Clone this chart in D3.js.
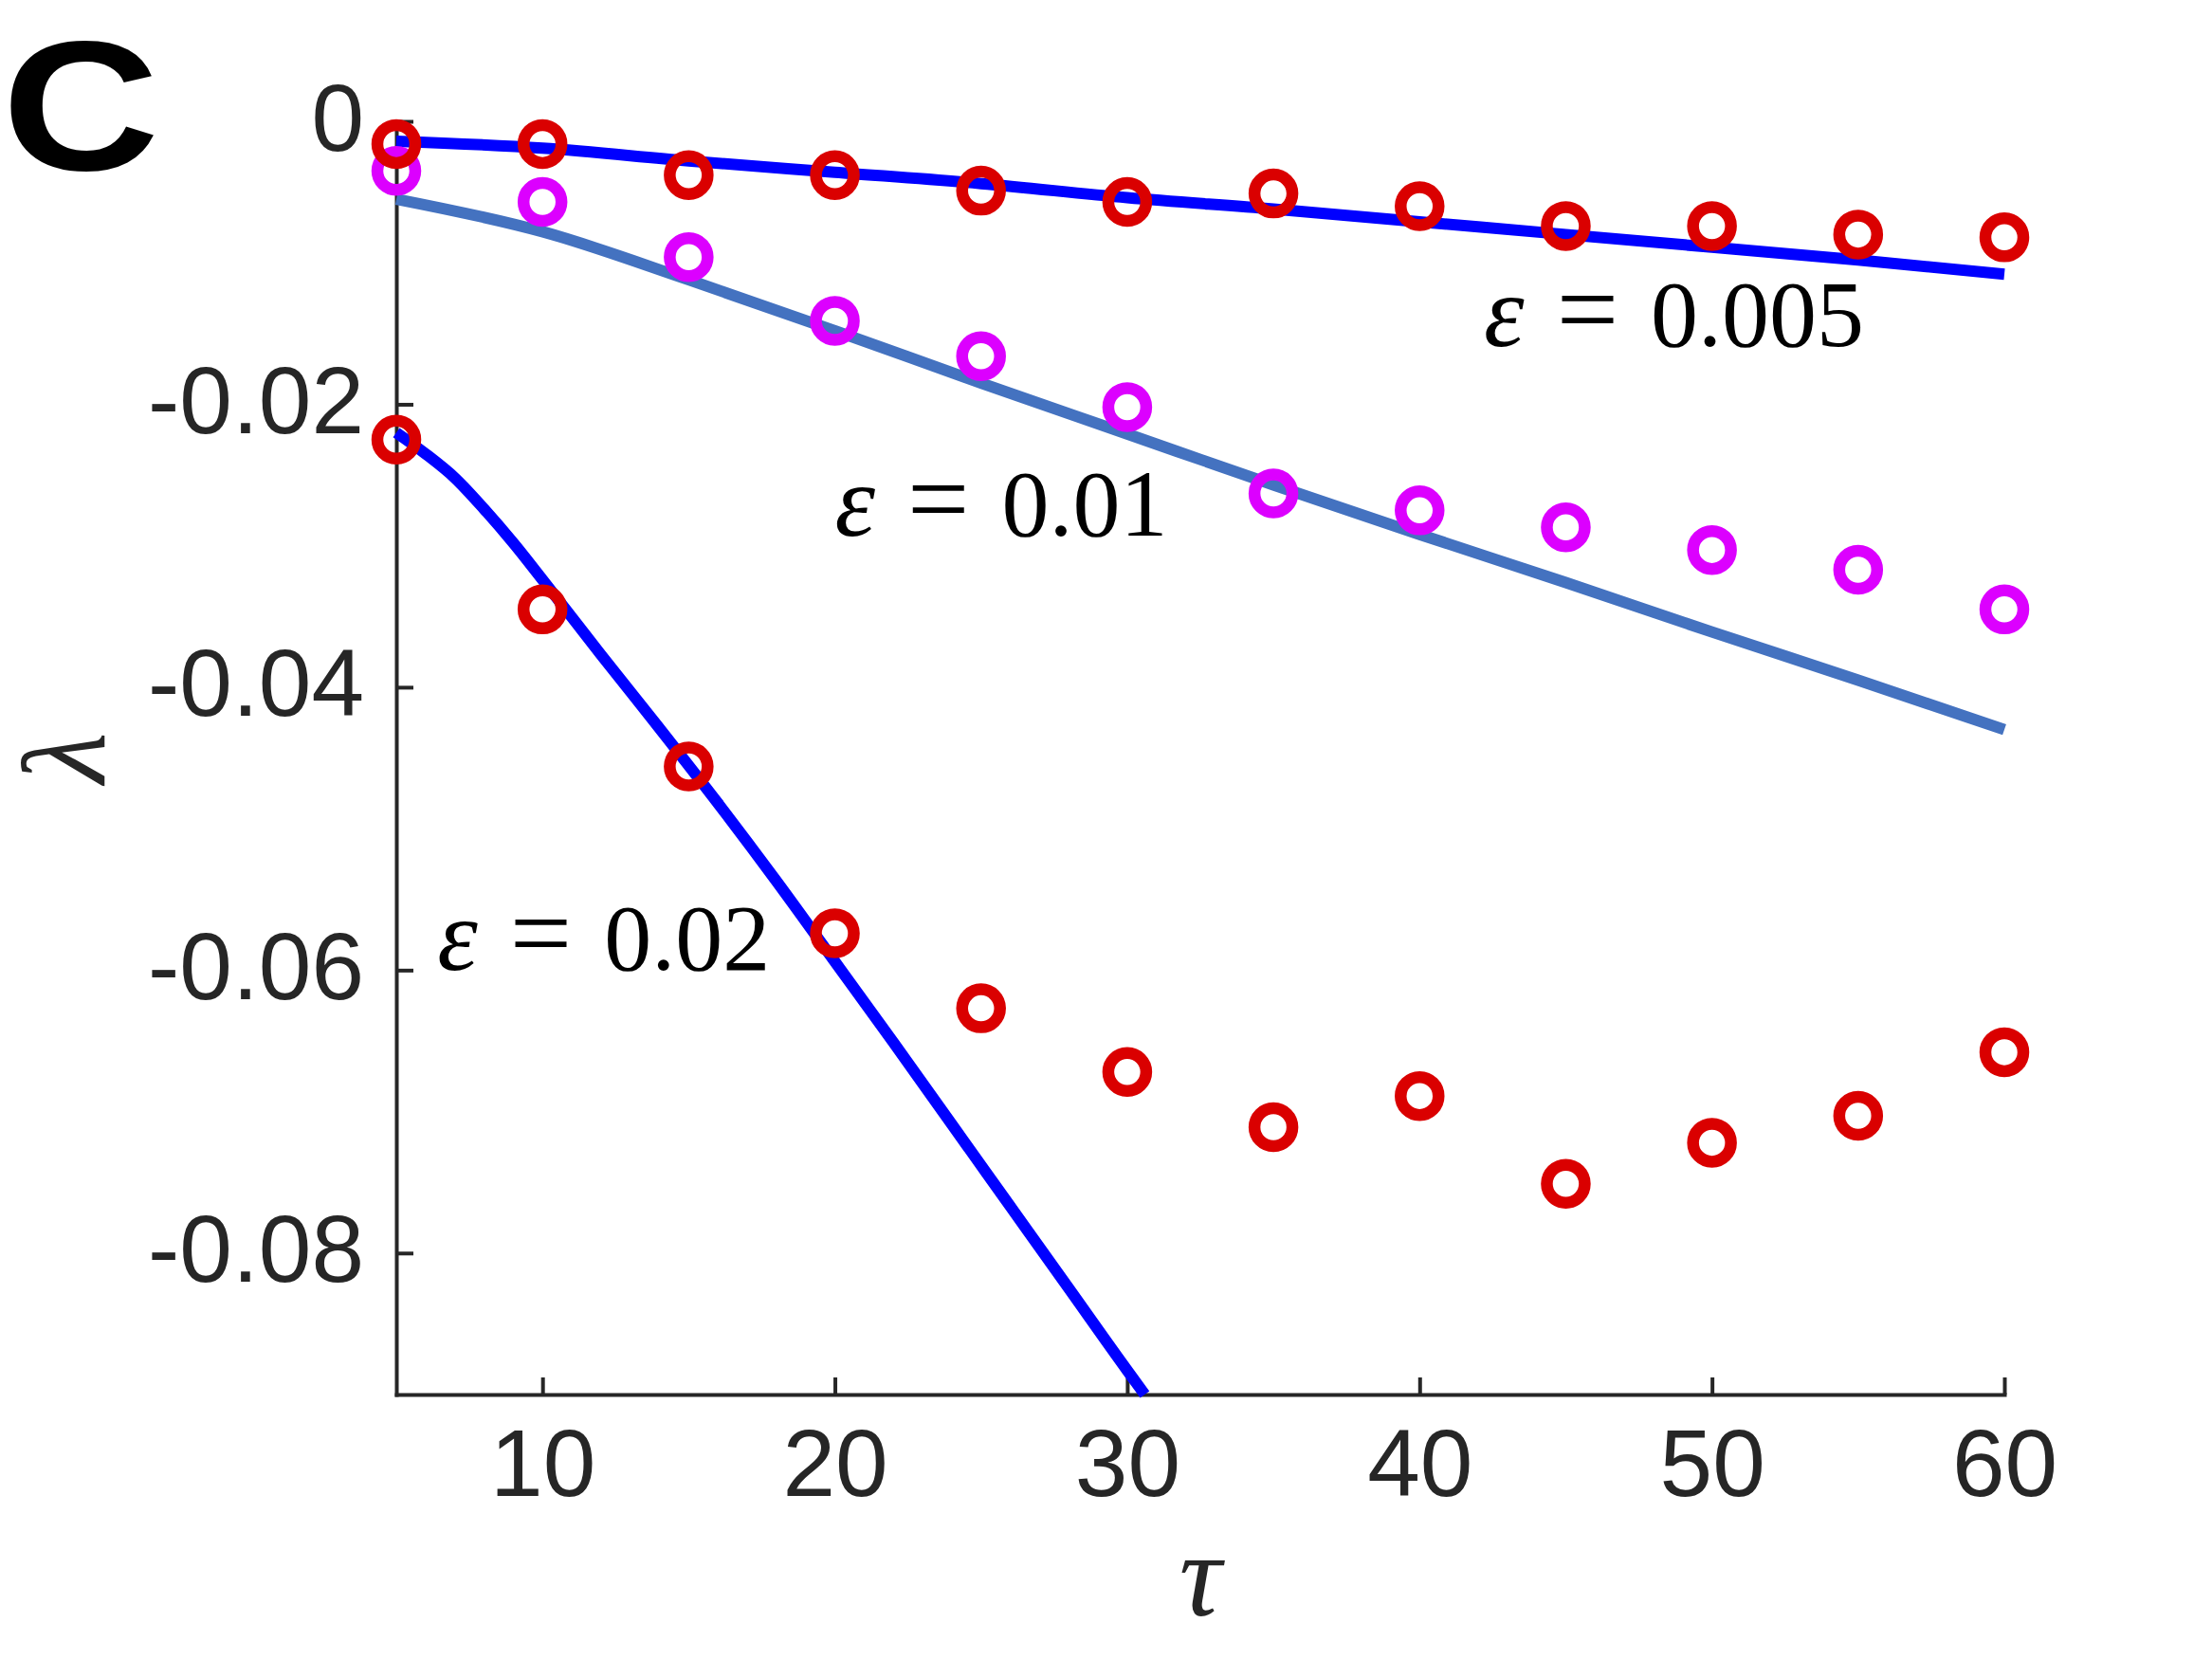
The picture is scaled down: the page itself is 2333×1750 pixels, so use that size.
<!DOCTYPE html>
<html>
<head>
<meta charset="utf-8">
<script src="https://d3js.org/d3.v7.min.js"></script>
<style>
  body { margin: 0; background: #fff; }
  .axis path, .axis line { stroke: #262626; stroke-width: 4; }
  .axis path { stroke-linecap: square; }
  .axis text { font-family: "Liberation Sans", Arial, Helvetica, sans-serif; font-size: 100px; fill: #262626; }
  .eq { font-family: "Liberation Serif", "Times New Roman", serif; font-size: 100px; fill: #000; }
  .axlabel { font-family: "Liberation Serif", "Times New Roman", serif; font-style: italic; font-size: 124px; fill: #262626; }
</style>
</head>
<body>
<svg id="fig" width="2333" height="1750"></svg>
<script>
// simulation points (circles)
const tau = [5, 10, 15, 20, 25, 30, 35, 40, 45, 50, 55, 60];
const red005 = [-0.0016, -0.0016, -0.0038, -0.0038, -0.0049, -0.0057, -0.0051, -0.0060, -0.0074, -0.0074, -0.0080, -0.0082];
const mag01 = [-0.0035, -0.0057, -0.0096, -0.0141, -0.0166, -0.0202, -0.0263, -0.0275, -0.0287, -0.0303, -0.0317, -0.0345];
const red02 = [-0.0225, -0.0345, -0.0456, -0.0574, -0.0627, -0.0672, -0.0711, -0.0689, -0.0751, -0.0722, -0.0703, -0.0658];

// theory curves
const tauLine = [5, 10, 15, 20, 25, 30, 35, 40, 45, 50, 55, 60];
const line005 = [-0.0014, -0.0019, -0.0028, -0.0036, -0.0044, -0.0054, -0.0062, -0.0071, -0.0080, -0.0089, -0.0098, -0.0108];
const line01 = [-0.0055, -0.0078, -0.0112, -0.0148, -0.0185, -0.0221, -0.0257, -0.0292, -0.0326, -0.0361, -0.0395, -0.0430];
const tauLine02 = [5, 6, 7, 8, 9, 10, 12, 14, 16, 18, 20, 22, 24, 26, 28, 30, 30.6];
const line02 = [-0.0220, -0.0235, -0.0252, -0.0274, -0.0298, -0.0324, -0.0377, -0.0429, -0.0482, -0.0537, -0.0594, -0.0651, -0.0709, -0.0767, -0.0825, -0.0883, -0.0900];

const xTicks = [10, 20, 30, 40, 50, 60];
const yTicks = [0, -0.02, -0.04, -0.06, -0.08];
const yTickLabels = ["0", "-0.02", "-0.04", "-0.06", "-0.08"];

// where each epsilon label starts (data coords of its baseline)
const labels = [
  {eps: "0.005", tau: 42.2, lam: -0.0159},
  {eps: "0.01", tau: 20.0, lam: -0.0293},
  {eps: "0.02", tau: 6.4, lam: -0.0600}
];

const svg = d3.select("#fig");
const margin = {top: 128, right: 219, bottom: 279, left: 418};
const width = +svg.attr("width");
const height = +svg.attr("height");

const x = d3.scaleLinear().domain([5, 60]).range([margin.left, width - margin.right]);
const y = d3.scaleLinear().domain([-0.09, 0]).range([height - margin.bottom, margin.top]);

// axes
svg.append("g")
  .attr("class", "x axis")
  .attr("transform", "translate(0," + y(-0.09) + ")")
  .call(d3.axisBottom(x).tickValues(xTicks).tickSizeInner(-18).tickSizeOuter(0).tickPadding(36));

svg.append("g")
  .attr("class", "y axis")
  .attr("transform", "translate(" + x(5) + ",0)")
  .call(d3.axisLeft(y).tickValues(yTicks).tickSizeInner(-18).tickSizeOuter(0).tickPadding(34)
    .tickFormat((d, i) => yTickLabels[i]));
svg.selectAll(".y.axis text").attr("dy", "0.30em");

// lines
const line = d3.line().x(d => x(d[0])).y(d => y(d[1])).curve(d3.curveMonotoneX);
const curves = [
  {t: tauLine, v: line005, color: "#0000ff"},
  {t: tauLine, v: line01, color: "#4472c0"},
  {t: tauLine02, v: line02, color: "#0000ff"}
];
svg.append("g").selectAll("path").data(curves)
  .join("path")
    .attr("d", c => line(c.t.map((t, i) => [t, c.v[i]])))
    .attr("fill", "none")
    .attr("stroke", c => c.color)
    .attr("stroke-width", 12);

// markers
const series = [
  {v: mag01, color: "#dc00ff"},
  {v: red005, color: "#da0000"},
  {v: red02, color: "#da0000"}
];
series.forEach(s => {
  svg.append("g").selectAll("circle").data(tau.map((t, i) => [t, s.v[i]]))
    .join("circle")
      .attr("cx", d => x(d[0]))
      .attr("cy", d => y(d[1]))
      .attr("r", 20)
      .attr("fill", "none")
      .attr("stroke", s.color)
      .attr("stroke-width", 12.5);
});

// epsilon labels
labels.forEach(l => {
  const t = svg.append("text").attr("class", "eq")
    .attr("x", x(l.tau)).attr("y", y(l.lam));
  t.append("tspan").style("font-style", "italic").style("font-size", "108px").text("\u03b5");
  t.append("tspan").attr("dx", 34).style("font-size", "116px").text("=");
  t.append("tspan").attr("dx", 34).text(l.eps);
});

// axis labels
svg.append("text").attr("class", "axlabel")
  .attr("text-anchor", "middle")
  .attr("x", (x(5) + x(60)) / 2).attr("y", 1704)
  .text("\u03c4");
svg.append("text").attr("class", "axlabel")
  .attr("text-anchor", "middle")
  .attr("transform", "translate(110," + (y(-0.045)) + ") rotate(-90)")
  .text("\u03bb");

// panel letter
svg.append("text")
  .attr("transform", "translate(2,179) scale(1.18,1)")
  .style("font-family", "'Liberation Sans', Arial, Helvetica, sans-serif")
  .style("font-weight", "bold")
  .style("font-size", "195px")
  .style("fill", "#000")
  .text("C");
</script>
</body>
</html>
